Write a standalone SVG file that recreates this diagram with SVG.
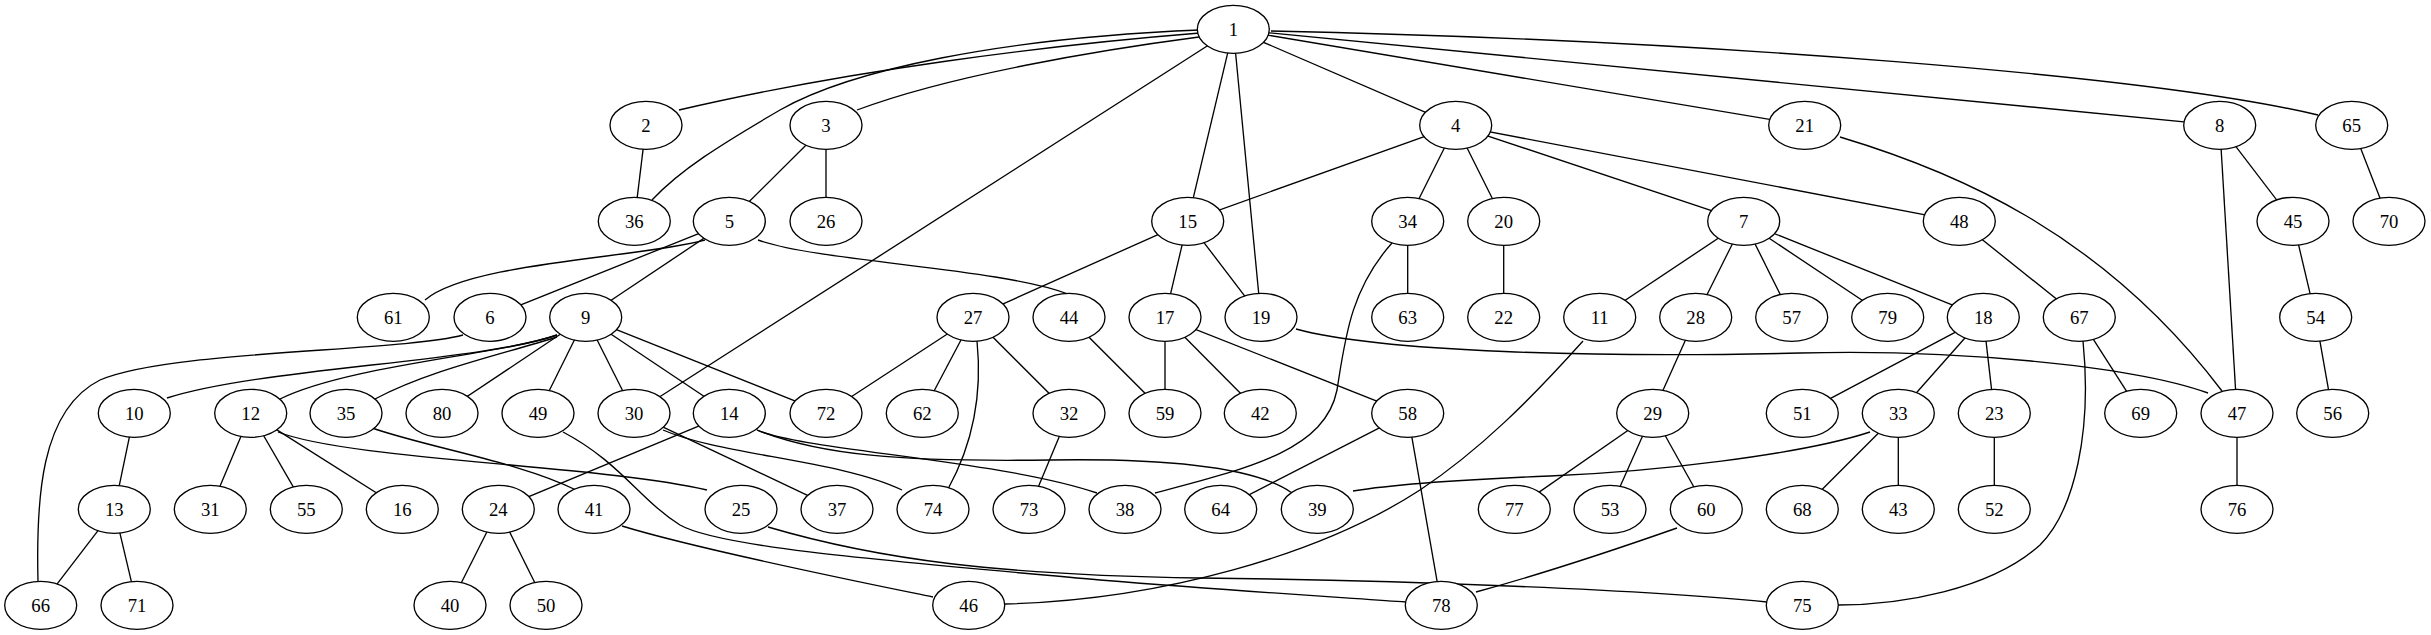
<svg xmlns="http://www.w3.org/2000/svg" width="2431" height="635" viewBox="0 0 2431 635">
<style>
.e{fill:none;stroke:#000;stroke-width:1.33}
.n ellipse{fill:#fff;stroke:#000;stroke-width:1.33;rx:36px;ry:24px}
.n text{font-family:"Liberation Serif","Times New Roman",serif;font-size:18.7px;text-anchor:middle;fill:#000}
</style>
<rect width="2431" height="635" fill="#fff"/>
<g id="connectors">
<path class="e" d="M1233.3,29.3L1455.7,125.3"/>
<path class="e" d="M1233.3,29.3L1187.7,221.3"/>
<path class="e" d="M1233.3,29.3L1261,317.3"/>
<path class="e" d="M1233.3,29.3L1804.7,125.3"/>
<path class="e" d="M1233.3,29.3L2219.7,125.3"/>
<path class="e" d="M1233.3,29.3L634,413.3"/>
<path class="e" d="M1200,33C1050,45 850,70 679,110"/>
<path class="e" d="M1199,37C1100,50 950,75 857,110"/>
<path class="e" d="M1200,30C1000,38 850,70 780,110C720,145 680,170 652,200"/>
<path class="e" d="M1271,31C1700,40 2150,75 2318,115"/>
<path class="e" d="M646,125.3L634.3,221.3"/>
<path class="e" d="M826,125.3L729.3,221.3"/>
<path class="e" d="M826,125.3L826,221.3"/>
<path class="e" d="M1455.7,125.3L1187.7,221.3"/>
<path class="e" d="M1455.7,125.3L1407.7,221.3"/>
<path class="e" d="M1455.7,125.3L1503.7,221.3"/>
<path class="e" d="M1455.7,125.3L1743.7,221.3"/>
<path class="e" d="M1455.7,125.3L1959.3,221.3"/>
<path class="e" d="M729.3,221.3L490,317.3"/>
<path class="e" d="M729.3,221.3L585.7,317.3"/>
<path class="e" d="M705,240C640,258 470,262 425,300"/>
<path class="e" d="M758,240C820,262 1000,268 1068,294"/>
<path class="e" d="M463,335C400,352 170,350 100,380C40,410 36,500 38,582"/>
<path class="e" d="M557,335C480,362 260,368 167,398"/>
<path class="e" d="M557,335C500,355 350,365 280,399"/>
<path class="e" d="M557,337C500,355 430,370 375,399"/>
<path class="e" d="M585.7,317.3L442,413.3"/>
<path class="e" d="M585.7,317.3L538,413.3"/>
<path class="e" d="M585.7,317.3L634,413.3"/>
<path class="e" d="M585.7,317.3L729.3,413.3"/>
<path class="e" d="M585.7,317.3L826,413.3"/>
<path class="e" d="M134.3,413.3L114.3,509.3"/>
<path class="e" d="M250.7,413.3L210.3,509.3"/>
<path class="e" d="M250.7,413.3L306.3,509.3"/>
<path class="e" d="M250.7,413.3L402.3,509.3"/>
<path class="e" d="M278,432C350,460 600,465 707,490"/>
<path class="e" d="M372,428C430,448 520,462 576,490"/>
<path class="e" d="M114.3,509.3L40.7,605.3"/>
<path class="e" d="M114.3,509.3L137,605.3"/>
<path class="e" d="M729.3,413.3L498.3,509.3"/>
<path class="e" d="M757,430C800,450 1000,460 1097,493"/>
<path class="e" d="M757,430C820,455 900,462 1050,460C1180,458 1260,470 1292,493"/>
<path class="e" d="M634,413.3L837,509.3"/>
<path class="e" d="M663,430C720,455 840,460 902,490"/>
<path class="e" d="M498.3,509.3L450,605.3"/>
<path class="e" d="M498.3,509.3L546,605.3"/>
<path class="e" d="M622,526C700,550 860,582 933,597"/>
<path class="e" d="M563,432C620,462 640,500 680,525C720,548 900,562 1100,580C1250,592 1350,598 1406,602"/>
<path class="e" d="M768,527C880,560 1000,575 1200,578C1400,580 1650,590 1767,602"/>
<path class="e" d="M1187.7,221.3L973,317.3"/>
<path class="e" d="M1187.7,221.3L1165,317.3"/>
<path class="e" d="M1187.7,221.3L1261,317.3"/>
<path class="e" d="M973,317.3L826,413.3"/>
<path class="e" d="M973,317.3L922.3,413.3"/>
<path class="e" d="M973,317.3L1069,413.3"/>
<path class="e" d="M977,341C982,390 975,440 948,489"/>
<path class="e" d="M1069,317.3L1165,413.3"/>
<path class="e" d="M1165,317.3L1165,413.3"/>
<path class="e" d="M1165,317.3L1260.3,413.3"/>
<path class="e" d="M1165,317.3L1407.7,413.3"/>
<path class="e" d="M1069,413.3L1029,509.3"/>
<path class="e" d="M1407.7,221.3L1407.7,317.3"/>
<path class="e" d="M1392,243C1350,290 1345,340 1337,390C1325,450 1250,468 1155,493"/>
<path class="e" d="M1503.7,221.3L1503.7,317.3"/>
<path class="e" d="M1296,329C1380,352 1600,358 1800,353C1950,349 2130,365 2208,393"/>
<path class="e" d="M1840,137C1950,170 2100,230 2222,391"/>
<path class="e" d="M1407.7,413.3L1220.7,509.3"/>
<path class="e" d="M1407.7,413.3L1441.3,605.3"/>
<path class="e" d="M1743.7,221.3L1599.7,317.3"/>
<path class="e" d="M1743.7,221.3L1695.7,317.3"/>
<path class="e" d="M1743.7,221.3L1791.7,317.3"/>
<path class="e" d="M1743.7,221.3L1887.7,317.3"/>
<path class="e" d="M1743.7,221.3L1983.3,317.3"/>
<path class="e" d="M1583,341C1530,400 1480,450 1420,490C1320,555 1160,600 1005,604"/>
<path class="e" d="M1695.7,317.3L1652.7,413.3"/>
<path class="e" d="M1652.7,413.3L1514.3,509.3"/>
<path class="e" d="M1652.7,413.3L1610,509.3"/>
<path class="e" d="M1652.7,413.3L1706.3,509.3"/>
<path class="e" d="M1677,528C1600,555 1520,580 1476,592"/>
<path class="e" d="M1983.3,317.3L1802.3,413.3"/>
<path class="e" d="M1983.3,317.3L1898.3,413.3"/>
<path class="e" d="M1983.3,317.3L1994.3,413.3"/>
<path class="e" d="M1870,432C1800,455 1650,472 1550,476C1450,480 1390,485 1353,491"/>
<path class="e" d="M1898.3,413.3L1802.3,509.3"/>
<path class="e" d="M1898.3,413.3L1898.3,509.3"/>
<path class="e" d="M1994.3,413.3L1994.3,509.3"/>
<path class="e" d="M1959.3,221.3L2079.3,317.3"/>
<path class="e" d="M2079.3,317.3L2140.7,413.3"/>
<path class="e" d="M2083,341C2092,430 2075,510 2040,545C1990,590 1900,605 1838,605"/>
<path class="e" d="M2219.7,125.3L2237,413.3"/>
<path class="e" d="M2219.7,125.3L2293,221.3"/>
<path class="e" d="M2293,221.3L2315.7,317.3"/>
<path class="e" d="M2315.7,317.3L2332.7,413.3"/>
<path class="e" d="M2351.7,125.3L2389,221.3"/>
<path class="e" d="M2237,413.3L2237,509.3"/>
</g>
<g id="n1" class="n"><ellipse cx="1233.3" cy="29.3"/><text x="1233.3" y="35.5">1</text></g>
<g id="n2" class="n"><ellipse cx="646" cy="125.3"/><text x="646" y="131.5">2</text></g>
<g id="n3" class="n"><ellipse cx="826" cy="125.3"/><text x="826" y="131.5">3</text></g>
<g id="n4" class="n"><ellipse cx="1455.7" cy="125.3"/><text x="1455.7" y="131.5">4</text></g>
<g id="n21" class="n"><ellipse cx="1804.7" cy="125.3"/><text x="1804.7" y="131.5">21</text></g>
<g id="n8" class="n"><ellipse cx="2219.7" cy="125.3"/><text x="2219.7" y="131.5">8</text></g>
<g id="n65" class="n"><ellipse cx="2351.7" cy="125.3"/><text x="2351.7" y="131.5">65</text></g>
<g id="n36" class="n"><ellipse cx="634.3" cy="221.3"/><text x="634.3" y="227.5">36</text></g>
<g id="n5" class="n"><ellipse cx="729.3" cy="221.3"/><text x="729.3" y="227.5">5</text></g>
<g id="n26" class="n"><ellipse cx="826" cy="221.3"/><text x="826" y="227.5">26</text></g>
<g id="n15" class="n"><ellipse cx="1187.7" cy="221.3"/><text x="1187.7" y="227.5">15</text></g>
<g id="n34" class="n"><ellipse cx="1407.7" cy="221.3"/><text x="1407.7" y="227.5">34</text></g>
<g id="n20" class="n"><ellipse cx="1503.7" cy="221.3"/><text x="1503.7" y="227.5">20</text></g>
<g id="n7" class="n"><ellipse cx="1743.7" cy="221.3"/><text x="1743.7" y="227.5">7</text></g>
<g id="n48" class="n"><ellipse cx="1959.3" cy="221.3"/><text x="1959.3" y="227.5">48</text></g>
<g id="n45" class="n"><ellipse cx="2293" cy="221.3"/><text x="2293" y="227.5">45</text></g>
<g id="n70" class="n"><ellipse cx="2389" cy="221.3"/><text x="2389" y="227.5">70</text></g>
<g id="n61" class="n"><ellipse cx="393.3" cy="317.3"/><text x="393.3" y="323.5">61</text></g>
<g id="n6" class="n"><ellipse cx="490" cy="317.3"/><text x="490" y="323.5">6</text></g>
<g id="n9" class="n"><ellipse cx="585.7" cy="317.3"/><text x="585.7" y="323.5">9</text></g>
<g id="n27" class="n"><ellipse cx="973" cy="317.3"/><text x="973" y="323.5">27</text></g>
<g id="n44" class="n"><ellipse cx="1069" cy="317.3"/><text x="1069" y="323.5">44</text></g>
<g id="n17" class="n"><ellipse cx="1165" cy="317.3"/><text x="1165" y="323.5">17</text></g>
<g id="n19" class="n"><ellipse cx="1261" cy="317.3"/><text x="1261" y="323.5">19</text></g>
<g id="n63" class="n"><ellipse cx="1407.7" cy="317.3"/><text x="1407.7" y="323.5">63</text></g>
<g id="n22" class="n"><ellipse cx="1503.7" cy="317.3"/><text x="1503.7" y="323.5">22</text></g>
<g id="n11" class="n"><ellipse cx="1599.7" cy="317.3"/><text x="1599.7" y="323.5">11</text></g>
<g id="n28" class="n"><ellipse cx="1695.7" cy="317.3"/><text x="1695.7" y="323.5">28</text></g>
<g id="n57" class="n"><ellipse cx="1791.7" cy="317.3"/><text x="1791.7" y="323.5">57</text></g>
<g id="n79" class="n"><ellipse cx="1887.7" cy="317.3"/><text x="1887.7" y="323.5">79</text></g>
<g id="n18" class="n"><ellipse cx="1983.3" cy="317.3"/><text x="1983.3" y="323.5">18</text></g>
<g id="n67" class="n"><ellipse cx="2079.3" cy="317.3"/><text x="2079.3" y="323.5">67</text></g>
<g id="n54" class="n"><ellipse cx="2315.7" cy="317.3"/><text x="2315.7" y="323.5">54</text></g>
<g id="n10" class="n"><ellipse cx="134.3" cy="413.3"/><text x="134.3" y="419.5">10</text></g>
<g id="n12" class="n"><ellipse cx="250.7" cy="413.3"/><text x="250.7" y="419.5">12</text></g>
<g id="n35" class="n"><ellipse cx="346" cy="413.3"/><text x="346" y="419.5">35</text></g>
<g id="n80" class="n"><ellipse cx="442" cy="413.3"/><text x="442" y="419.5">80</text></g>
<g id="n49" class="n"><ellipse cx="538" cy="413.3"/><text x="538" y="419.5">49</text></g>
<g id="n30" class="n"><ellipse cx="634" cy="413.3"/><text x="634" y="419.5">30</text></g>
<g id="n14" class="n"><ellipse cx="729.3" cy="413.3"/><text x="729.3" y="419.5">14</text></g>
<g id="n72" class="n"><ellipse cx="826" cy="413.3"/><text x="826" y="419.5">72</text></g>
<g id="n62" class="n"><ellipse cx="922.3" cy="413.3"/><text x="922.3" y="419.5">62</text></g>
<g id="n32" class="n"><ellipse cx="1069" cy="413.3"/><text x="1069" y="419.5">32</text></g>
<g id="n59" class="n"><ellipse cx="1165" cy="413.3"/><text x="1165" y="419.5">59</text></g>
<g id="n42" class="n"><ellipse cx="1260.3" cy="413.3"/><text x="1260.3" y="419.5">42</text></g>
<g id="n58" class="n"><ellipse cx="1407.7" cy="413.3"/><text x="1407.7" y="419.5">58</text></g>
<g id="n29" class="n"><ellipse cx="1652.7" cy="413.3"/><text x="1652.7" y="419.5">29</text></g>
<g id="n51" class="n"><ellipse cx="1802.3" cy="413.3"/><text x="1802.3" y="419.5">51</text></g>
<g id="n33" class="n"><ellipse cx="1898.3" cy="413.3"/><text x="1898.3" y="419.5">33</text></g>
<g id="n23" class="n"><ellipse cx="1994.3" cy="413.3"/><text x="1994.3" y="419.5">23</text></g>
<g id="n69" class="n"><ellipse cx="2140.7" cy="413.3"/><text x="2140.7" y="419.5">69</text></g>
<g id="n47" class="n"><ellipse cx="2237" cy="413.3"/><text x="2237" y="419.5">47</text></g>
<g id="n56" class="n"><ellipse cx="2332.7" cy="413.3"/><text x="2332.7" y="419.5">56</text></g>
<g id="n13" class="n"><ellipse cx="114.3" cy="509.3"/><text x="114.3" y="515.5">13</text></g>
<g id="n31" class="n"><ellipse cx="210.3" cy="509.3"/><text x="210.3" y="515.5">31</text></g>
<g id="n55" class="n"><ellipse cx="306.3" cy="509.3"/><text x="306.3" y="515.5">55</text></g>
<g id="n16" class="n"><ellipse cx="402.3" cy="509.3"/><text x="402.3" y="515.5">16</text></g>
<g id="n24" class="n"><ellipse cx="498.3" cy="509.3"/><text x="498.3" y="515.5">24</text></g>
<g id="n41" class="n"><ellipse cx="594" cy="509.3"/><text x="594" y="515.5">41</text></g>
<g id="n25" class="n"><ellipse cx="741" cy="509.3"/><text x="741" y="515.5">25</text></g>
<g id="n37" class="n"><ellipse cx="837" cy="509.3"/><text x="837" y="515.5">37</text></g>
<g id="n74" class="n"><ellipse cx="933" cy="509.3"/><text x="933" y="515.5">74</text></g>
<g id="n73" class="n"><ellipse cx="1029" cy="509.3"/><text x="1029" y="515.5">73</text></g>
<g id="n38" class="n"><ellipse cx="1125" cy="509.3"/><text x="1125" y="515.5">38</text></g>
<g id="n64" class="n"><ellipse cx="1220.7" cy="509.3"/><text x="1220.7" y="515.5">64</text></g>
<g id="n39" class="n"><ellipse cx="1317.3" cy="509.3"/><text x="1317.3" y="515.5">39</text></g>
<g id="n77" class="n"><ellipse cx="1514.3" cy="509.3"/><text x="1514.3" y="515.5">77</text></g>
<g id="n53" class="n"><ellipse cx="1610" cy="509.3"/><text x="1610" y="515.5">53</text></g>
<g id="n60" class="n"><ellipse cx="1706.3" cy="509.3"/><text x="1706.3" y="515.5">60</text></g>
<g id="n68" class="n"><ellipse cx="1802.3" cy="509.3"/><text x="1802.3" y="515.5">68</text></g>
<g id="n43" class="n"><ellipse cx="1898.3" cy="509.3"/><text x="1898.3" y="515.5">43</text></g>
<g id="n52" class="n"><ellipse cx="1994.3" cy="509.3"/><text x="1994.3" y="515.5">52</text></g>
<g id="n76" class="n"><ellipse cx="2237" cy="509.3"/><text x="2237" y="515.5">76</text></g>
<g id="n66" class="n"><ellipse cx="40.7" cy="605.3"/><text x="40.7" y="611.5">66</text></g>
<g id="n71" class="n"><ellipse cx="137" cy="605.3"/><text x="137" y="611.5">71</text></g>
<g id="n40" class="n"><ellipse cx="450" cy="605.3"/><text x="450" y="611.5">40</text></g>
<g id="n50" class="n"><ellipse cx="546" cy="605.3"/><text x="546" y="611.5">50</text></g>
<g id="n46" class="n"><ellipse cx="968.7" cy="605.3"/><text x="968.7" y="611.5">46</text></g>
<g id="n78" class="n"><ellipse cx="1441.3" cy="605.3"/><text x="1441.3" y="611.5">78</text></g>
<g id="n75" class="n"><ellipse cx="1802.3" cy="605.3"/><text x="1802.3" y="611.5">75</text></g>
</svg>
